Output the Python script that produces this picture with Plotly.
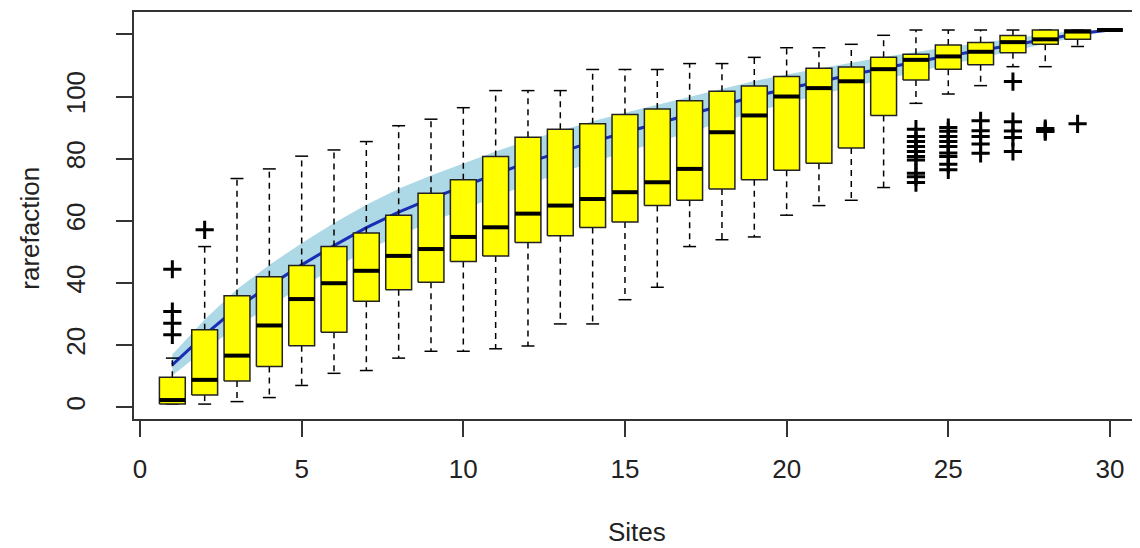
import plotly.graph_objects as go

# ---------------- data ----------------
sites = list(range(1, 31))

# specaccum mean curve and its confidence polygon
curve_mean = [13.6, 23.3, 32.0, 39.1, 45.8, 52.0, 57.8, 62.8, 67.1, 71.1,
              75.0, 78.8, 82.2, 85.4, 88.4, 91.3, 94.2, 97.2, 100.0, 102.5,
              104.8, 107.0, 109.1, 111.2, 113.1, 114.8, 116.6, 118.5, 120.2, 121.4]
curve_upper = [17.0, 28.2, 38.0, 45.8, 52.8, 59.3, 65.2, 70.3, 74.6, 78.5,
               82.3, 85.9, 89.0, 92.0, 94.8, 97.4, 100.0, 102.6, 105.0, 107.1,
               109.1, 110.9, 112.7, 114.4, 115.9, 117.2, 118.6, 120.1, 121.2, 121.4]
curve_lower = [10.2, 18.4, 26.0, 32.4, 38.8, 44.7, 50.4, 55.3, 59.6, 63.7,
               67.7, 71.7, 75.4, 78.8, 82.0, 85.2, 88.4, 91.8, 95.0, 97.9,
               100.5, 103.1, 105.5, 108.0, 110.3, 112.4, 114.6, 116.9, 119.2, 121.4]

# boxplot statistics per number of sites
box_q1 = [1.0, 3.9, 8.4, 13.1, 19.8, 24.1, 34.1, 37.8, 40.2, 46.9,
          48.7, 53.0, 55.2, 57.8, 59.6, 64.9, 66.6, 70.2, 73.2, 76.3,
          78.5, 83.4, 93.9, 105.3, 108.8, 110.2, 114.1, 116.8, 118.4, 121.4]
box_median = [2.3, 8.8, 16.6, 26.3, 34.8, 39.9, 43.9, 48.7, 50.9, 54.8,
              57.9, 62.3, 64.9, 67.0, 69.2, 72.4, 76.7, 88.5, 93.9, 100.0,
              102.7, 104.9, 108.8, 111.8, 112.9, 114.4, 117.5, 118.4, 120.9, 121.4]
box_q3 = [9.6, 24.9, 35.9, 42.0, 45.6, 51.7, 56.1, 61.8, 68.9, 73.2,
          80.7, 86.9, 89.5, 91.2, 94.2, 96.0, 98.6, 101.7, 103.4, 106.4,
          109.1, 109.5, 112.6, 113.6, 116.6, 117.4, 119.6, 121.4, 121.4, 121.4]
whisker_low = [1.0, 1.0, 1.8, 3.1, 7.0, 10.9, 11.8, 15.8, 18.0, 18.0,
               18.8, 19.7, 26.8, 26.8, 34.6, 38.6, 51.7, 53.9, 54.8, 61.8,
               64.9, 66.6, 70.7, 97.8, 100.8, 103.5, 109.6, 109.6, 116.1, 121.4]
whisker_high = [15.8, 51.7, 73.6, 76.7, 80.8, 82.8, 85.5, 90.6, 92.7, 96.4,
                101.9, 101.9, 101.9, 108.7, 108.7, 108.7, 110.6, 110.6, 112.6, 115.7,
                115.7, 116.8, 119.7, 121.4, 121.4, 121.4, 121.4, 121.4, 121.4, 121.4]

outlier_sites = [1, 1, 1, 1, 2,
                 24, 24, 24, 24, 24, 24, 24, 24, 24, 24,
                 25, 25, 25, 25, 25, 25, 25, 25, 25,
                 26, 26, 26, 26, 26,
                 27, 27, 27, 27, 27,
                 28, 28, 28, 29]
outlier_values = [44.4, 30.8, 27.0, 23.3, 57.1,
                  89.5, 87.1, 85.5, 83.9, 82.3, 80.7, 79.6, 75.3, 74.2, 72.3,
                  90.0, 88.8, 87.1, 85.5, 83.9, 81.8, 80.7, 78.2, 76.4,
                  92.2, 89.0, 87.1, 84.7, 81.7,
                  104.8, 91.9, 88.9, 86.8, 82.3,
                  89.7, 89.0, 88.7, 91.2]

x_ticks = [0, 5, 10, 15, 20, 25, 30]
y_ticks = [0, 20, 40, 60, 80, 100, 120]
y_tick_text = ["0", "20", "40", "60", "80", "100", ""]

x_title = "Sites"
y_title = "rarefaction"

# ---------------- style ----------------
FONT = "Liberation Sans, Arial, sans-serif"
FS = 26
BOX_HALF = 0.4
CAP_HALF = 0.2
EDGE = "#222222"

fig = go.Figure()

# confidence polygon
fig.add_trace(go.Scatter(
    x=sites + sites[::-1], y=curve_upper + curve_lower[::-1],
    fill="toself", fillcolor="#ADD8E6", line=dict(width=0),
    mode="lines", hoverinfo="skip", showlegend=False))

# mean curve
fig.add_trace(go.Scatter(
    x=sites, y=curve_mean, mode="lines",
    line=dict(color="#1a2db5", width=3), showlegend=False))

# whiskers (dashed)
wx, wy = [], []
for s, q1, q3, lo, hi in zip(sites, box_q1, box_q3, whisker_low, whisker_high):
    wx += [s, s, None, s, s, None]
    wy += [q3, hi, None, q1, lo, None]
fig.add_trace(go.Scatter(
    x=wx, y=wy, mode="lines", connectgaps=False,
    line=dict(color="black", width=1.5, dash="6px,5px"), showlegend=False))

# whisker caps
cx, cy = [], []
for s, lo, hi in zip(sites, whisker_low, whisker_high):
    cx += [s - CAP_HALF, s + CAP_HALF, None, s - CAP_HALF, s + CAP_HALF, None]
    cy += [hi, hi, None, lo, lo, None]
fig.add_trace(go.Scatter(
    x=cx, y=cy, mode="lines", connectgaps=False,
    line=dict(color="black", width=1.5), showlegend=False))

# boxes
bx, by = [], []
for s, q1, q3 in zip(sites, box_q1, box_q3):
    bx += [s - BOX_HALF, s + BOX_HALF, s + BOX_HALF, s - BOX_HALF, s - BOX_HALF, None]
    by += [q1, q1, q3, q3, q1, None]
fig.add_trace(go.Scatter(
    x=bx, y=by, mode="lines", fill="toself", fillcolor="#FFFF00",
    connectgaps=False, line=dict(color=EDGE, width=1.5), showlegend=False))

# medians
mx, my = [], []
for s, m in zip(sites, box_median):
    mx += [s - BOX_HALF, s + BOX_HALF, None]
    my += [m, m, None]
fig.add_trace(go.Scatter(
    x=mx, y=my, mode="lines", connectgaps=False,
    line=dict(color="black", width=4), showlegend=False))

# outliers
fig.add_trace(go.Scatter(
    x=outlier_sites, y=outlier_values, mode="markers",
    marker=dict(symbol="cross-thin", size=13, color="black",
                line=dict(color="black", width=3)),
    showlegend=False))

axis_common = dict(
    showgrid=False, zeroline=False, showline=True, mirror=True,
    linecolor="#333333", linewidth=1.5, automargin=False,
    ticks="outside", ticklen=16, tickwidth=1.5, tickcolor="#333333",
    tickfont=dict(family=FONT, size=FS, color="#222222"),
)

fig.update_xaxes(range=[-0.186, 30.93], tickmode="array", tickvals=x_ticks,
                 ticklabelstandoff=10, **axis_common)
fig.update_yaxes(range=[-3.8, 127.2], tickmode="array", tickvals=y_ticks,
                 ticktext=y_tick_text, tickangle=-90, ticklabelstandoff=21,
                 **axis_common)

fig.add_annotation(text=x_title, xref="paper", yref="paper",
                   x=0.5, y=-0.278, xanchor="center", yanchor="middle",
                   showarrow=False, font=dict(family=FONT, size=FS, color="#222222"))
fig.add_annotation(text=y_title, xref="paper", yref="paper",
                   x=-0.1034, y=0.47, xanchor="center", yanchor="middle",
                   textangle=-90, showarrow=False,
                   font=dict(family=FONT, size=FS, color="#222222"))

# the page body adds an 8px offset, so the figure is sized to end at the window edge
fig.update_layout(
    width=1132, height=540,
    margin=dict(l=126, r=0, t=4, b=129, autoexpand=False),
    paper_bgcolor="white", plot_bgcolor="white",
    showlegend=False,
)

fig.write_html("out.html")
